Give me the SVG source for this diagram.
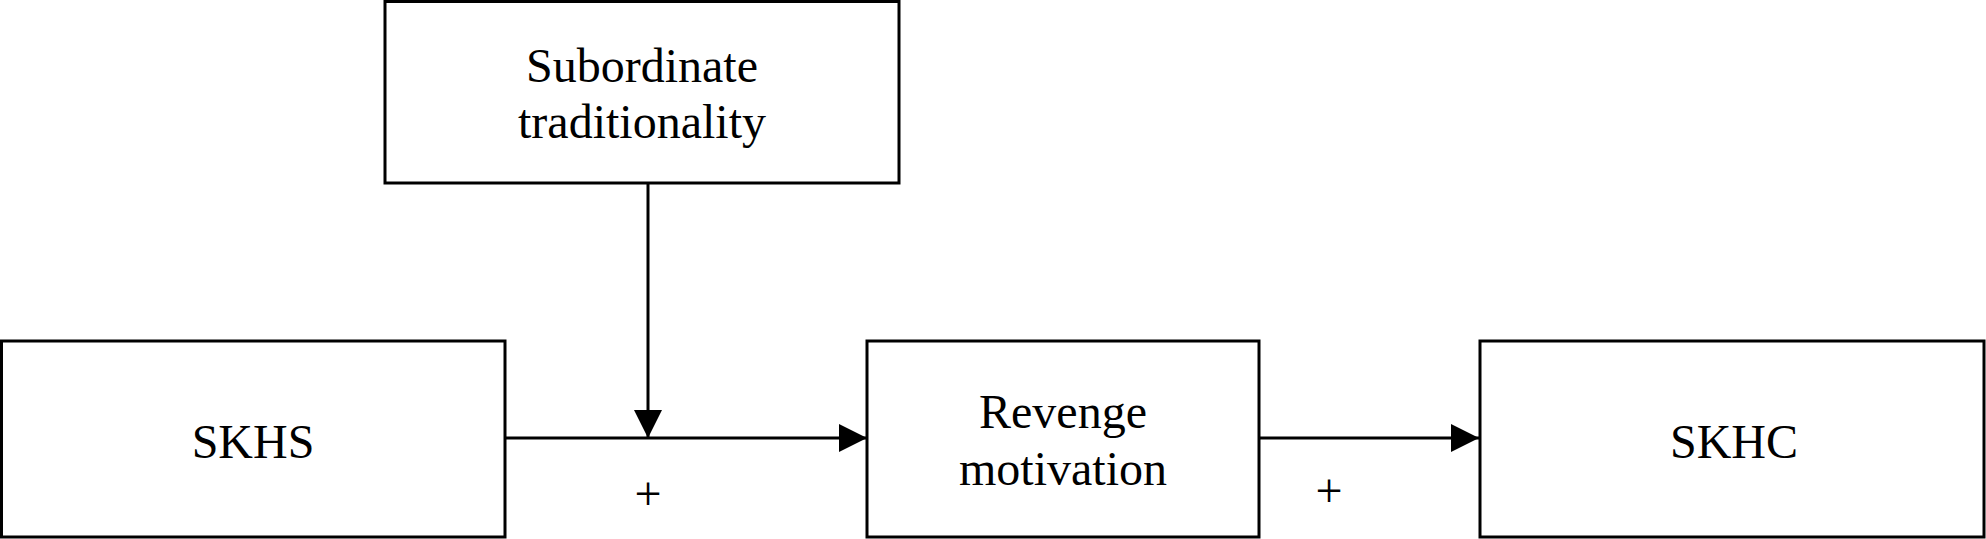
<svg xmlns="http://www.w3.org/2000/svg" width="1986" height="539" viewBox="0 0 1986 539">
<style>
.box{fill:#fff;stroke:#000;stroke-width:3}
.lbl{font-family:"Liberation Serif","Times New Roman",serif;font-size:48px;fill:#000;text-anchor:middle}
.edge{stroke:#000;stroke-width:3;fill:none}
</style>
<defs>
<marker id="arr" markerUnits="userSpaceOnUse" viewBox="0 0 28 28" refX="28" refY="14" markerWidth="28" markerHeight="28" orient="auto">
<path d="M0,0 L28,14 L0,28 z" fill="#000"/>
</marker>
</defs>
<rect width="1986" height="539" fill="#fff"/>
<g id="connectors">
<line class="edge" x1="505" y1="438" x2="867" y2="438" marker-end="url(#arr)"/>
<line class="edge" x1="1259" y1="438" x2="1479" y2="438" marker-end="url(#arr)"/>
<line class="edge" x1="648" y1="183" x2="648" y2="438" marker-end="url(#arr)"/>
<text class="lbl" x="648" y="510">+</text>
<text class="lbl" x="1329" y="507">+</text>
</g>
<g id="node-subordinate">
<rect class="box" x="385" y="1.5" width="514" height="181.5"/>
<text class="lbl" x="642" y="82">Subordinate</text>
<text class="lbl" x="642" y="138">traditionality</text>
</g>
<g id="node-skhs">
<rect class="box" x="1.5" y="341" width="503.5" height="196"/>
<text class="lbl" x="253" y="458">SKHS</text>
</g>
<g id="node-revenge">
<rect class="box" x="867" y="341" width="392" height="196"/>
<text class="lbl" x="1063" y="428">Revenge</text>
<text class="lbl" x="1063" y="485">motivation</text>
</g>
<g id="node-skhc">
<rect class="box" x="1480" y="341" width="504" height="196"/>
<text class="lbl" x="1734" y="458">SKHC</text>
</g>
</svg>
